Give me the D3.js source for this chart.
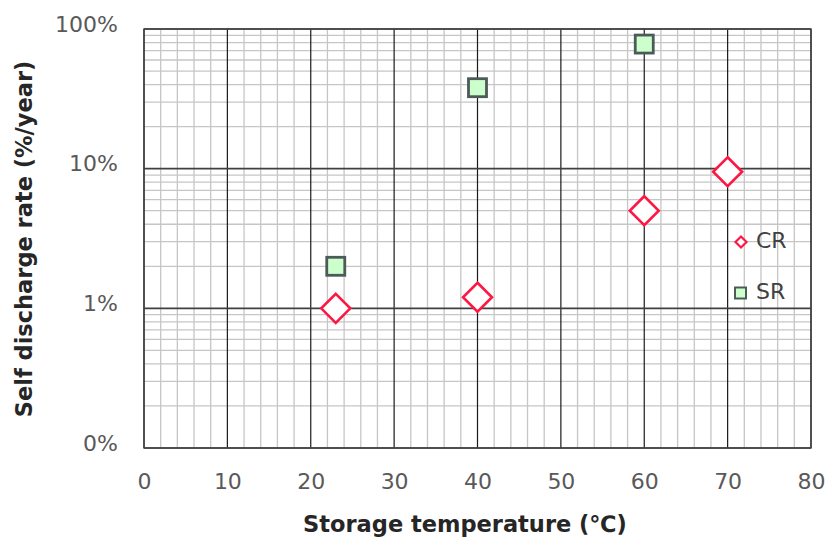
<!DOCTYPE html>
<html><head><meta charset="utf-8">
<script src="https://cdn.jsdelivr.net/npm/d3@7"></script>
<style>body{margin:0;background:#fff}svg{display:block}</style>
</head><body><svg id="c" width="827" height="537"></svg>
<script>
const crTemps = [23, 40, 60, 70];
const crRates = [0.01, 0.012, 0.05, 0.095];
const srTemps = [23, 40, 60];
const srRates = [0.02, 0.38, 0.78];
const seriesNames = ["CR", "SR"];
const xTicks = [0, 10, 20, 30, 40, 50, 60, 70, 80];
const yTicks = [0.001, 0.01, 0.1, 1];
const yTickLabels = ["0%", "1%", "10%", "100%"];

const svg = d3.select("#c");
const L = 144, R = 811, T = 29, B = 448;
const x = d3.scaleLinear().domain([0, 80]).range([L, R]);
const y = d3.scaleLog().domain([0.001, 1]).range([B, T]);
const font = "DejaVu Sans, Verdana, sans-serif";

const g = svg.append("g");
d3.range(0, 81, 2).filter(v => v % 10 !== 0).forEach(v => {
  g.append("line").attr("x1", x(v)).attr("x2", x(v)).attr("y1", T).attr("y2", B)
   .attr("stroke", "#c6c6c6").attr("stroke-width", 1.3);
});
[0.001, 0.01, 0.1].forEach(d => {
  for (let k = 2; k <= 9; k++) {
    const v = d * k;
    g.append("line").attr("x1", L).attr("x2", R).attr("y1", y(v)).attr("y2", y(v))
     .attr("stroke", "#c6c6c6").attr("stroke-width", 1.3);
  }
});
xTicks.forEach(v => {
  g.append("line").attr("x1", x(v)).attr("x2", x(v)).attr("y1", T).attr("y2", B)
   .attr("stroke", "#1a1a1a").attr("stroke-width", 1.2);
});
yTicks.forEach(v => {
  g.append("line").attr("x1", L).attr("x2", R).attr("y1", y(v)).attr("y2", y(v))
   .attr("stroke", "#404040").attr("stroke-width", 1.6);
});
g.append("rect").attr("x", L).attr("y", T).attr("width", R - L).attr("height", B - T)
 .attr("fill", "none").attr("stroke", "#404040").attr("stroke-width", 1.4);

const xAxis = svg.append("g").attr("transform", `translate(0,${B})`)
  .call(d3.axisBottom(x).tickValues(xTicks).tickSize(0).tickPadding(25).tickFormat(d3.format("d")));
const yAxis = svg.append("g").attr("transform", `translate(${L},0)`)
  .call(d3.axisLeft(y).tickValues(yTicks).tickSize(0).tickPadding(26).tickFormat((d, i) => yTickLabels[i]));
[xAxis, yAxis].forEach(a => {
  a.select(".domain").remove();
  a.selectAll("text").attr("font-family", font).attr("font-size", 22).attr("fill", "#595959");
});
yAxis.selectAll(".tick text").attr("dy", "0.1em");

svg.append("text").attr("x", 465).attr("y", 532).attr("text-anchor", "middle")
  .attr("font-family", font).attr("font-weight", "bold").attr("font-size", 22.5).attr("fill", "#262626")
  .text("Storage temperature (℃)");
svg.append("text").attr("transform", "translate(32,239) rotate(-90)").attr("text-anchor", "middle")
  .attr("font-family", font).attr("font-weight", "bold").attr("font-size", 22.5).attr("fill", "#262626")
  .text("Self discharge rate (%/year)");

const diamond = (s) => `M0,${-s}L${s},0L0,${s}L${-s},0Z`;
svg.append("g").selectAll("rect").data(srTemps.map((t, i) => [t, srRates[i]])).join("rect")
  .attr("x", d => x(d[0]) - 9).attr("y", d => y(d[1]) - 9).attr("width", 18).attr("height", 18)
  .attr("fill", "#ccffcc").attr("stroke", "#4d5a5a").attr("stroke-width", 2.8);
svg.append("g").selectAll("path").data(crTemps.map((t, i) => [t, crRates[i]])).join("path")
  .attr("transform", d => `translate(${x(d[0])},${y(d[1])})`).attr("d", diamond(14.5))
  .attr("fill", "#fff").attr("stroke", "#ff1744").attr("stroke-width", 2.6);

const lg = svg.append("g");
lg.append("path").attr("transform", "translate(741,242)").attr("d", diamond(5.5))
  .attr("fill", "#fff").attr("stroke", "#ff1744").attr("stroke-width", 2.2);
lg.append("rect").attr("x", 735).attr("y", 287.5).attr("width", 11).attr("height", 11)
  .attr("fill", "#ccffcc").attr("stroke", "#4d5a5a").attr("stroke-width", 2);
lg.selectAll("text.lt").data(seriesNames).join("text").attr("class", "lt")
  .attr("x", 756).attr("y", (d, i) => i === 0 ? 248 : 299)
  .attr("font-family", font).attr("font-size", 22).attr("fill", "#404040").text(d => d);
</script></body></html>
